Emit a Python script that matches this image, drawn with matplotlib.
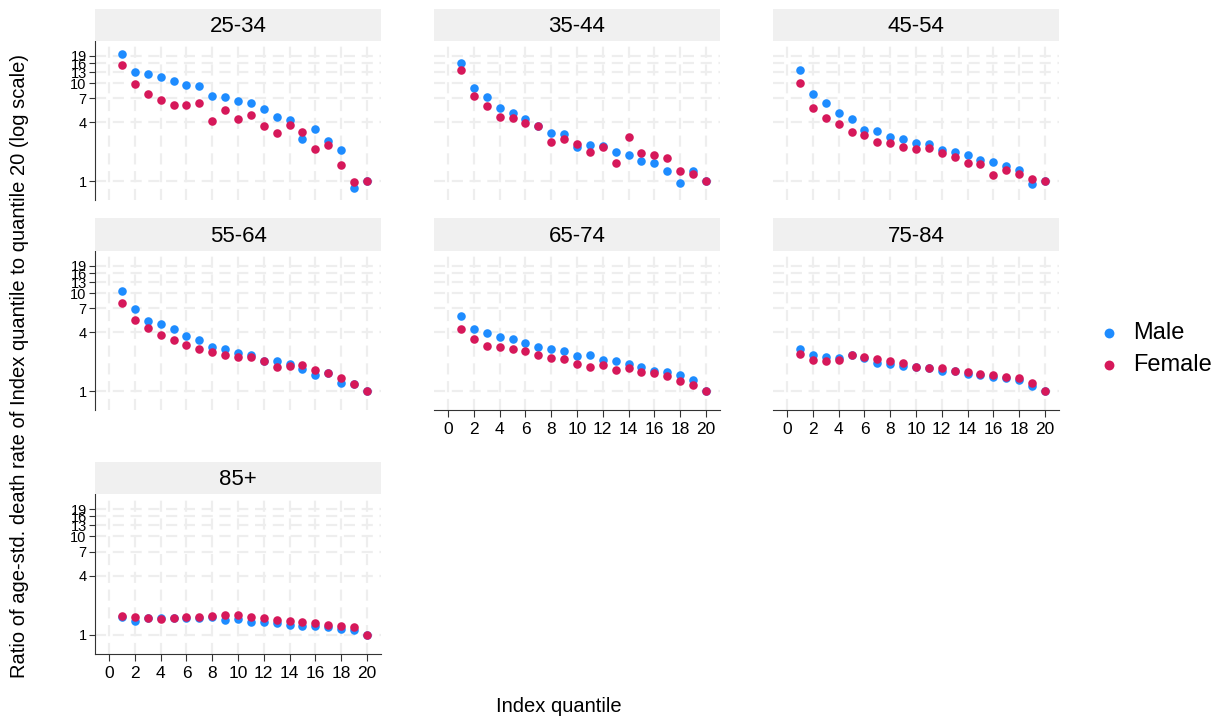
import matplotlib.pyplot as plt
import numpy as np

plt.rcParams['font.family'] = ['Liberation Sans', 'DejaVu Sans']

quantile = np.arange(1, 21)
age_groups = ['25-34', '35-44', '45-54', '55-64', '65-74', '75-84', '85+']

male_25_34 = [19.7, 13.1, 12.3, 11.7, 10.6, 9.5, 9.3, 7.4, 7.2, 6.65,
              6.3, 5.5, 4.5, 4.25, 2.7, 3.4, 2.55, 2.06, 0.85, 1.0]
female_25_34 = [15.2, 9.85, 7.8, 6.8, 5.95, 6.05, 6.3, 4.08, 5.3, 4.3,
                4.7, 3.69, 3.08, 3.77, 3.15, 2.14, 2.36, 1.47, 0.98, 1.0]
male_35_44 = [16.0, 8.96, 7.25, 5.63, 4.93, 4.28, 3.69, 3.08, 3.05, 2.25,
              2.36, 2.28, 1.97, 1.86, 1.60, 1.52, 1.27, 0.95, 1.28, 1.0]
female_35_44 = [13.8, 7.42, 5.86, 4.52, 4.38, 3.89, 3.63, 2.51, 2.69, 2.39,
                1.97, 2.25, 1.54, 2.84, 1.95, 1.86, 1.72, 1.27, 1.18, 1.0]
male_45_54 = [13.7, 7.71, 6.29, 4.93, 4.28, 3.33, 3.23, 2.80, 2.67, 2.47,
              2.39, 2.09, 2.00, 1.85, 1.64, 1.58, 1.44, 1.31, 0.94, 1.0]
female_45_54 = [10.0, 5.63, 4.38, 3.86, 3.17, 2.94, 2.49, 2.45, 2.23, 2.11,
                2.18, 1.93, 1.77, 1.54, 1.50, 1.16, 1.31, 1.19, 1.06, 1.0]
male_55_64 = [10.5, 6.85, 5.24, 4.88, 4.27, 3.62, 3.32, 2.83, 2.68, 2.46,
              2.36, 2.03, 2.03, 1.89, 1.67, 1.47, 1.52, 1.20, 1.17, 1.0]
female_55_64 = [8.02, 5.32, 4.40, 3.70, 3.32, 2.97, 2.72, 2.48, 2.36, 2.24,
                2.22, 2.03, 1.76, 1.82, 1.85, 1.63, 1.53, 1.36, 1.18, 1.0]
male_65_74 = [5.85, 4.30, 3.94, 3.59, 3.40, 3.11, 2.85, 2.72, 2.56, 2.27,
              2.36, 2.08, 2.03, 1.88, 1.78, 1.60, 1.57, 1.47, 1.30, 1.0]
female_65_74 = [4.27, 3.37, 2.90, 2.81, 2.72, 2.54, 2.36, 2.20, 2.13, 1.88,
                1.76, 1.86, 1.66, 1.71, 1.57, 1.53, 1.43, 1.26, 1.16, 1.0]
male_75_84 = [2.66, 2.34, 2.24, 2.20, 2.31, 2.20, 1.94, 1.91, 1.81, 1.75,
              1.71, 1.62, 1.59, 1.50, 1.47, 1.40, 1.35, 1.29, 1.13, 1.0]
female_75_84 = [2.40, 2.10, 2.02, 2.08, 2.32, 2.25, 2.15, 2.03, 1.92, 1.75,
                1.72, 1.72, 1.59, 1.58, 1.48, 1.46, 1.40, 1.37, 1.22, 1.0]
male_85 = [1.51, 1.39, 1.47, 1.49, 1.47, 1.50, 1.47, 1.51, 1.43, 1.44,
           1.34, 1.36, 1.32, 1.27, 1.24, 1.24, 1.19, 1.15, 1.13, 1.0]
female_85 = [1.57, 1.52, 1.49, 1.46, 1.49, 1.51, 1.51, 1.56, 1.61, 1.60,
             1.52, 1.50, 1.43, 1.39, 1.36, 1.33, 1.27, 1.22, 1.21, 1.0]

male = [male_25_34, male_35_44, male_45_54, male_55_64, male_65_74, male_75_84, male_85]
female = [female_25_34, female_35_44, female_45_54, female_55_64, female_65_74, female_75_84, female_85]

y_ticks = [1, 4, 7, 10, 13, 16, 19]
x_ticks = np.arange(0, 21, 2)

male_color = '#1E8CFF'
female_color = '#D6185A'

W, H = 1232, 720
fig = plt.figure(figsize=(W / 100, H / 100), dpi=100)

# 패널 위치 (픽셀)
col_x = [(95, 381), (434, 720), (773, 1059)]
row_y = [(9, 41, 200), (218, 251, 410), (462, 494, 654)]

for i, name in enumerate(age_groups):
    r, c = divmod(i, 3)
    x0, x1 = col_x[c]
    s_top, p_top, p_bot = row_y[r]

    ax = fig.add_axes([x0 / W, 1 - p_bot / H, (x1 - x0) / W, (p_bot - p_top) / H])
    sax = fig.add_axes([x0 / W, 1 - p_top / H, (x1 - x0) / W, (p_top - s_top) / H])
    sax.set_facecolor('#f0f0f0')
    sax.set_xticks([])
    sax.set_yticks([])
    for sp in sax.spines.values():
        sp.set_visible(False)
    sax.text(0.5, 0.45, name, ha='center', va='center', fontsize=16, transform=sax.transAxes)

    ax.set_yscale('log')
    ax.set_xlim(-1.1, 21.1)
    ax.set_ylim(0.64, 27)

    for yv in y_ticks:
        ax.axhline(yv, color='#eeeeee', lw=1.6, ls=(0, (5, 3)), zorder=0)
    for xv in x_ticks:
        ax.axvline(xv, color='#eeeeee', lw=1.6, ls=(0, (5, 3)), zorder=0)

    ax.scatter(quantile, male[i], s=38, color=male_color, lw=0, zorder=3,
               label='Male' if i == 0 else None)
    ax.scatter(quantile, female[i], s=38, color=female_color, lw=0, zorder=3,
               label='Female' if i == 0 else None)

    for sp in ['top', 'right']:
        ax.spines[sp].set_visible(False)

    show_x = (r == 2) or (r == 1 and c > 0)
    show_y = (c == 0)

    ax.yaxis.set_minor_locator(plt.NullLocator())
    ax.xaxis.set_minor_locator(plt.NullLocator())
    if show_y:
        ax.set_yticks(y_ticks)
        ax.set_yticklabels([str(v) for v in y_ticks], fontsize=10.5)
        ax.spines['left'].set_color('#333333')
        ax.tick_params(axis='y', length=4, color='#333333', pad=2)
    else:
        ax.set_yticks([])
        ax.spines['left'].set_visible(False)
    if show_x:
        ax.set_xticks(x_ticks)
        ax.set_xticklabels([str(v) for v in x_ticks], fontsize=12.5)
        ax.spines['bottom'].set_color('#333333')
        ax.tick_params(axis='x', length=5, color='#333333', pad=4)
    else:
        ax.set_xticks([])
        ax.spines['bottom'].set_visible(False)

    if i == 0:
        handles, labels = ax.get_legend_handles_labels()

fig.legend(handles, labels, loc='center left', bbox_to_anchor=(1097 / W, 1 - 349 / H),
           frameon=False, fontsize=17, handlelength=1.0, handletextpad=0.55,
           markerscale=1.15, labelspacing=0.4, borderaxespad=0, borderpad=0)

fig.text(559 / W, 1 - 707 / H, 'Index quantile', ha='center', va='center', fontsize=14.5)
fig.text(20 / W, 1 - 366 / H,
         'Ratio of age-std. death rate of Index quantile to quantile 20 (log scale)',
         ha='center', va='center', rotation=90, fontsize=14.5)

fig.savefig('out.png', dpi=100)
